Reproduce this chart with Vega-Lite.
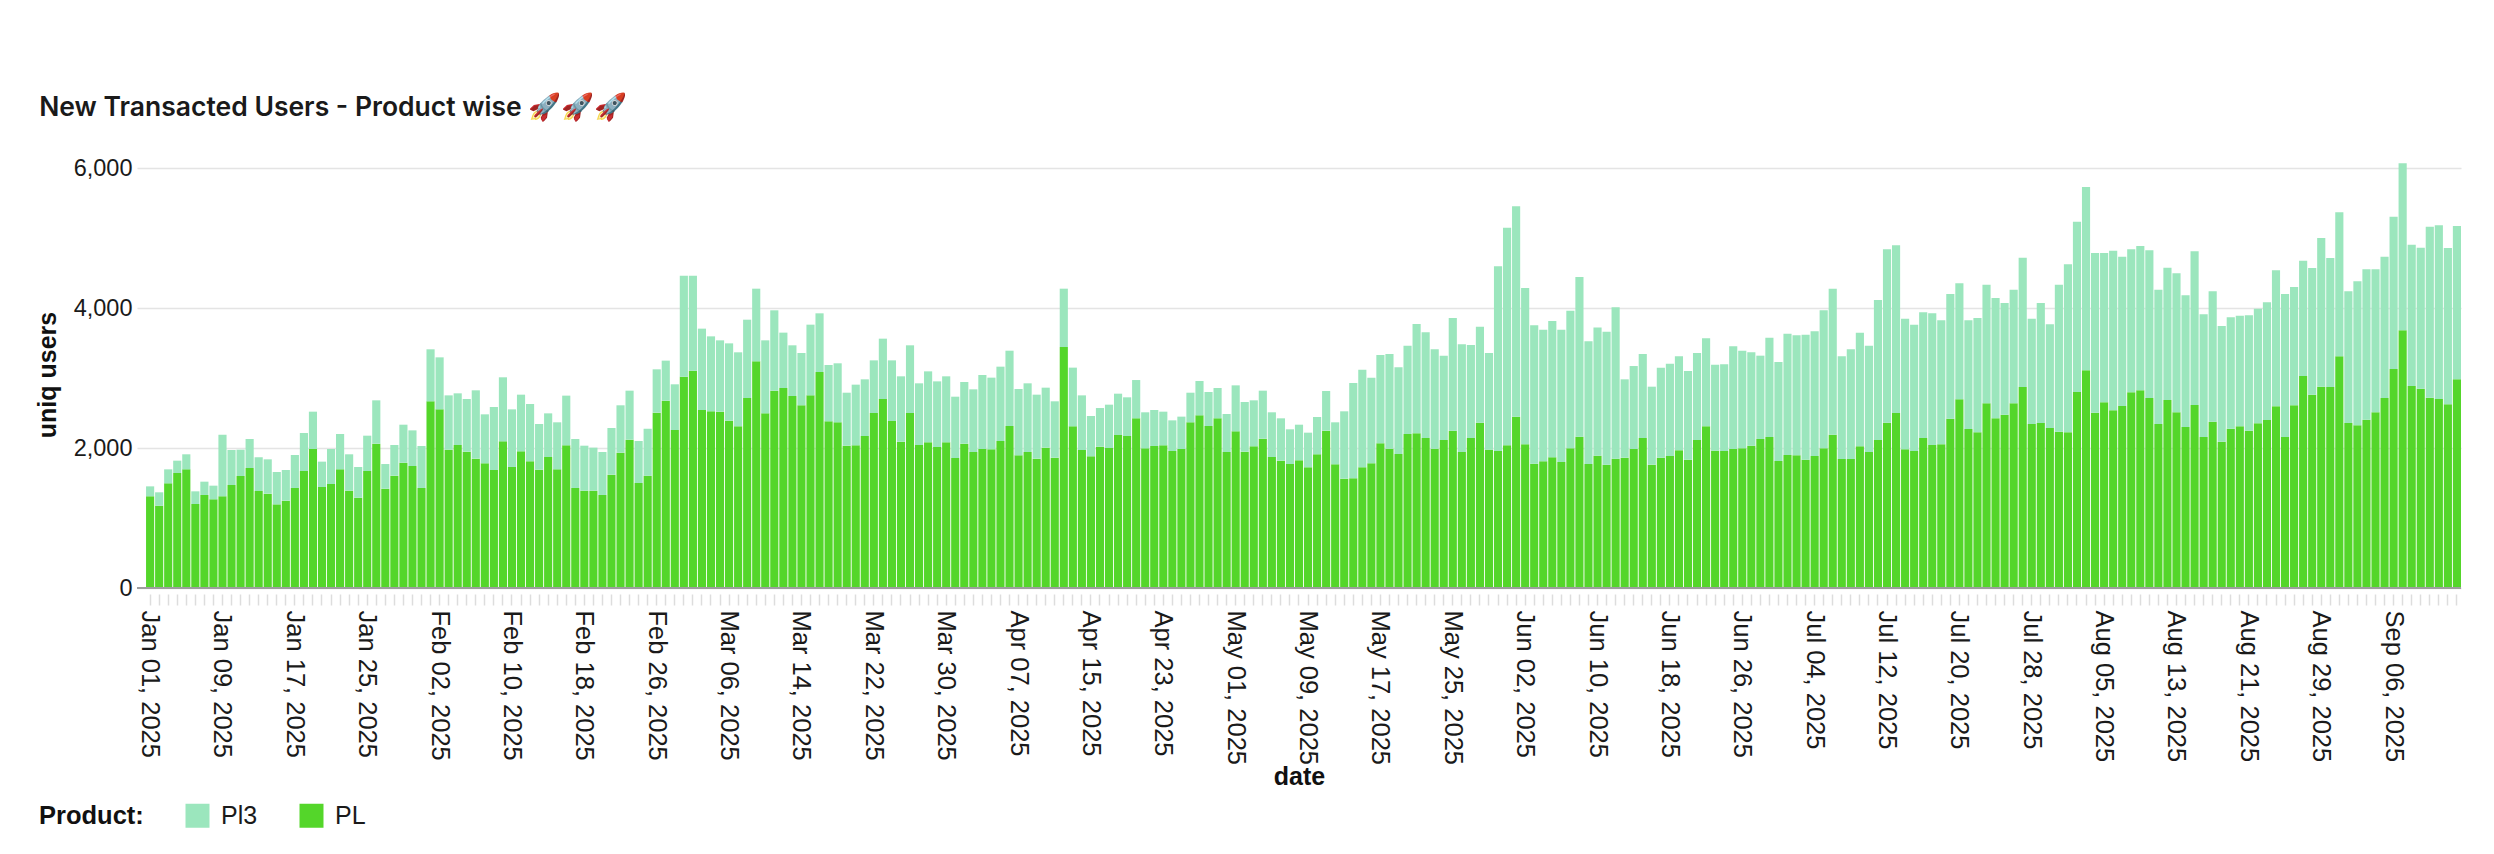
{
  "$schema": "https://vega.github.io/schema/vega-lite/v6.json",
  "width": 2324,
  "height": 427,
  "autosize": {"type": "none"},
  "padding": {"left": 137, "top": 161, "right": 33, "bottom": 266},
  "background": "white",
  "title": {
    "text": "New Transacted Users - Product wise 🚀🚀🚀",
    "anchor": "start",
    "frame": "bounds",
    "font": "Inter",
    "fontSize": 26.5,
    "fontWeight": 600,
    "color": "#1a1a1a",
    "offset": 35,
    "dx": 4
  },
  "data": {
    "values": [
      {"date":"2025-01-01","PL":1310,"Pl3":142},
      {"date":"2025-01-02","PL":1176,"Pl3":191},
      {"date":"2025-01-03","PL":1495,"Pl3":200},
      {"date":"2025-01-04","PL":1643,"Pl3":176},
      {"date":"2025-01-05","PL":1695,"Pl3":215},
      {"date":"2025-01-06","PL":1200,"Pl3":181},
      {"date":"2025-01-07","PL":1329,"Pl3":190},
      {"date":"2025-01-08","PL":1267,"Pl3":195},
      {"date":"2025-01-09","PL":1310,"Pl3":880},
      {"date":"2025-01-10","PL":1471,"Pl3":500},
      {"date":"2025-01-11","PL":1600,"Pl3":376},
      {"date":"2025-01-12","PL":1714,"Pl3":415},
      {"date":"2025-01-13","PL":1386,"Pl3":481},
      {"date":"2025-01-14","PL":1348,"Pl3":490},
      {"date":"2025-01-15","PL":1195,"Pl3":462},
      {"date":"2025-01-16","PL":1248,"Pl3":438},
      {"date":"2025-01-17","PL":1429,"Pl3":471},
      {"date":"2025-01-18","PL":1671,"Pl3":543},
      {"date":"2025-01-19","PL":1986,"Pl3":533},
      {"date":"2025-01-20","PL":1443,"Pl3":362},
      {"date":"2025-01-21","PL":1486,"Pl3":500},
      {"date":"2025-01-22","PL":1695,"Pl3":505},
      {"date":"2025-01-23","PL":1390,"Pl3":520},
      {"date":"2025-01-24","PL":1290,"Pl3":439},
      {"date":"2025-01-25","PL":1671,"Pl3":505},
      {"date":"2025-01-26","PL":2062,"Pl3":619},
      {"date":"2025-01-27","PL":1419,"Pl3":352},
      {"date":"2025-01-28","PL":1605,"Pl3":438},
      {"date":"2025-01-29","PL":1790,"Pl3":543},
      {"date":"2025-01-30","PL":1743,"Pl3":509},
      {"date":"2025-01-31","PL":1429,"Pl3":600},
      {"date":"2025-02-01","PL":2667,"Pl3":743},
      {"date":"2025-02-02","PL":2552,"Pl3":743},
      {"date":"2025-02-03","PL":1976,"Pl3":776},
      {"date":"2025-02-04","PL":2043,"Pl3":738},
      {"date":"2025-02-05","PL":1948,"Pl3":752},
      {"date":"2025-02-06","PL":1848,"Pl3":976},
      {"date":"2025-02-07","PL":1781,"Pl3":700},
      {"date":"2025-02-08","PL":1686,"Pl3":900},
      {"date":"2025-02-09","PL":2095,"Pl3":915},
      {"date":"2025-02-10","PL":1729,"Pl3":823},
      {"date":"2025-02-11","PL":1952,"Pl3":810},
      {"date":"2025-02-12","PL":1810,"Pl3":819},
      {"date":"2025-02-13","PL":1690,"Pl3":653},
      {"date":"2025-02-14","PL":1871,"Pl3":624},
      {"date":"2025-02-15","PL":1695,"Pl3":672},
      {"date":"2025-02-16","PL":2038,"Pl3":710},
      {"date":"2025-02-17","PL":1429,"Pl3":700},
      {"date":"2025-02-18","PL":1390,"Pl3":643},
      {"date":"2025-02-19","PL":1390,"Pl3":615},
      {"date":"2025-02-20","PL":1329,"Pl3":614},
      {"date":"2025-02-21","PL":1619,"Pl3":667},
      {"date":"2025-02-22","PL":1933,"Pl3":677},
      {"date":"2025-02-23","PL":2119,"Pl3":700},
      {"date":"2025-02-24","PL":1500,"Pl3":600},
      {"date":"2025-02-25","PL":1605,"Pl3":671},
      {"date":"2025-02-26","PL":2505,"Pl3":619},
      {"date":"2025-02-27","PL":2676,"Pl3":572},
      {"date":"2025-02-28","PL":2257,"Pl3":653},
      {"date":"2025-03-01","PL":3019,"Pl3":1443},
      {"date":"2025-03-02","PL":3105,"Pl3":1357},
      {"date":"2025-03-03","PL":2543,"Pl3":1162},
      {"date":"2025-03-04","PL":2524,"Pl3":1071},
      {"date":"2025-03-05","PL":2519,"Pl3":1019},
      {"date":"2025-03-06","PL":2390,"Pl3":1105},
      {"date":"2025-03-07","PL":2310,"Pl3":1057},
      {"date":"2025-03-08","PL":2714,"Pl3":1119},
      {"date":"2025-03-09","PL":3238,"Pl3":1038},
      {"date":"2025-03-10","PL":2495,"Pl3":1043},
      {"date":"2025-03-11","PL":2819,"Pl3":1148},
      {"date":"2025-03-12","PL":2857,"Pl3":791},
      {"date":"2025-03-13","PL":2743,"Pl3":724},
      {"date":"2025-03-14","PL":2610,"Pl3":747},
      {"date":"2025-03-15","PL":2752,"Pl3":1010},
      {"date":"2025-03-16","PL":3086,"Pl3":838},
      {"date":"2025-03-17","PL":2381,"Pl3":805},
      {"date":"2025-03-18","PL":2367,"Pl3":843},
      {"date":"2025-03-19","PL":2033,"Pl3":757},
      {"date":"2025-03-20","PL":2038,"Pl3":867},
      {"date":"2025-03-21","PL":2171,"Pl3":810},
      {"date":"2025-03-22","PL":2500,"Pl3":752},
      {"date":"2025-03-23","PL":2700,"Pl3":862},
      {"date":"2025-03-24","PL":2386,"Pl3":866},
      {"date":"2025-03-25","PL":2090,"Pl3":934},
      {"date":"2025-03-26","PL":2500,"Pl3":967},
      {"date":"2025-03-27","PL":2043,"Pl3":881},
      {"date":"2025-03-28","PL":2081,"Pl3":1014},
      {"date":"2025-03-29","PL":2014,"Pl3":938},
      {"date":"2025-03-30","PL":2081,"Pl3":943},
      {"date":"2025-03-31","PL":1857,"Pl3":876},
      {"date":"2025-04-01","PL":2062,"Pl3":881},
      {"date":"2025-04-02","PL":1943,"Pl3":895},
      {"date":"2025-04-03","PL":1986,"Pl3":1057},
      {"date":"2025-04-04","PL":1981,"Pl3":1024},
      {"date":"2025-04-05","PL":2100,"Pl3":1062},
      {"date":"2025-04-06","PL":2314,"Pl3":1076},
      {"date":"2025-04-07","PL":1895,"Pl3":948},
      {"date":"2025-04-08","PL":1943,"Pl3":981},
      {"date":"2025-04-09","PL":1848,"Pl3":914},
      {"date":"2025-04-10","PL":2005,"Pl3":857},
      {"date":"2025-04-11","PL":1862,"Pl3":805},
      {"date":"2025-04-12","PL":3443,"Pl3":833},
      {"date":"2025-04-13","PL":2310,"Pl3":838},
      {"date":"2025-04-14","PL":1971,"Pl3":781},
      {"date":"2025-04-15","PL":1881,"Pl3":576},
      {"date":"2025-04-16","PL":2019,"Pl3":552},
      {"date":"2025-04-17","PL":2000,"Pl3":619},
      {"date":"2025-04-18","PL":2186,"Pl3":590},
      {"date":"2025-04-19","PL":2171,"Pl3":553},
      {"date":"2025-04-20","PL":2424,"Pl3":547},
      {"date":"2025-04-21","PL":1995,"Pl3":515},
      {"date":"2025-04-22","PL":2029,"Pl3":514},
      {"date":"2025-04-23","PL":2038,"Pl3":481},
      {"date":"2025-04-24","PL":1957,"Pl3":438},
      {"date":"2025-04-25","PL":1986,"Pl3":462},
      {"date":"2025-04-26","PL":2367,"Pl3":423},
      {"date":"2025-04-27","PL":2467,"Pl3":490},
      {"date":"2025-04-28","PL":2314,"Pl3":486},
      {"date":"2025-04-29","PL":2424,"Pl3":433},
      {"date":"2025-04-30","PL":1943,"Pl3":543},
      {"date":"2025-05-01","PL":2238,"Pl3":657},
      {"date":"2025-05-02","PL":1948,"Pl3":709},
      {"date":"2025-05-03","PL":2024,"Pl3":657},
      {"date":"2025-05-04","PL":2133,"Pl3":686},
      {"date":"2025-05-05","PL":1871,"Pl3":639},
      {"date":"2025-05-06","PL":1819,"Pl3":605},
      {"date":"2025-05-07","PL":1771,"Pl3":496},
      {"date":"2025-05-08","PL":1824,"Pl3":509},
      {"date":"2025-05-09","PL":1724,"Pl3":495},
      {"date":"2025-05-10","PL":1910,"Pl3":533},
      {"date":"2025-05-11","PL":2248,"Pl3":566},
      {"date":"2025-05-12","PL":1767,"Pl3":600},
      {"date":"2025-05-13","PL":1562,"Pl3":962},
      {"date":"2025-05-14","PL":1567,"Pl3":1362},
      {"date":"2025-05-15","PL":1724,"Pl3":1395},
      {"date":"2025-05-16","PL":1781,"Pl3":1224},
      {"date":"2025-05-17","PL":2067,"Pl3":1262},
      {"date":"2025-05-18","PL":1990,"Pl3":1353},
      {"date":"2025-05-19","PL":1914,"Pl3":1238},
      {"date":"2025-05-20","PL":2200,"Pl3":1262},
      {"date":"2025-05-21","PL":2210,"Pl3":1561},
      {"date":"2025-05-22","PL":2143,"Pl3":1509},
      {"date":"2025-05-23","PL":1990,"Pl3":1420},
      {"date":"2025-05-24","PL":2114,"Pl3":1205},
      {"date":"2025-05-25","PL":2248,"Pl3":1609},
      {"date":"2025-05-26","PL":1943,"Pl3":1538},
      {"date":"2025-05-27","PL":2143,"Pl3":1328},
      {"date":"2025-05-28","PL":2362,"Pl3":1371},
      {"date":"2025-05-29","PL":1976,"Pl3":1381},
      {"date":"2025-05-30","PL":1957,"Pl3":2638},
      {"date":"2025-05-31","PL":2038,"Pl3":3110},
      {"date":"2025-06-01","PL":2448,"Pl3":3004},
      {"date":"2025-06-02","PL":2052,"Pl3":2234},
      {"date":"2025-06-03","PL":1776,"Pl3":1976},
      {"date":"2025-06-04","PL":1810,"Pl3":1880},
      {"date":"2025-06-05","PL":1867,"Pl3":1947},
      {"date":"2025-06-06","PL":1800,"Pl3":1890},
      {"date":"2025-06-07","PL":1995,"Pl3":1967},
      {"date":"2025-06-08","PL":2162,"Pl3":2281},
      {"date":"2025-06-09","PL":1771,"Pl3":1753},
      {"date":"2025-06-10","PL":1888,"Pl3":1834},
      {"date":"2025-06-11","PL":1762,"Pl3":1900},
      {"date":"2025-06-12","PL":1848,"Pl3":2162},
      {"date":"2025-06-13","PL":1862,"Pl3":1119},
      {"date":"2025-06-14","PL":1986,"Pl3":1185},
      {"date":"2025-06-15","PL":2143,"Pl3":1200},
      {"date":"2025-06-16","PL":1762,"Pl3":1114},
      {"date":"2025-06-17","PL":1862,"Pl3":1286},
      {"date":"2025-06-18","PL":1886,"Pl3":1319},
      {"date":"2025-06-19","PL":1967,"Pl3":1343},
      {"date":"2025-06-20","PL":1833,"Pl3":1267},
      {"date":"2025-06-21","PL":2114,"Pl3":1243},
      {"date":"2025-06-22","PL":2310,"Pl3":1257},
      {"date":"2025-06-23","PL":1962,"Pl3":1228},
      {"date":"2025-06-24","PL":1957,"Pl3":1238},
      {"date":"2025-06-25","PL":1986,"Pl3":1466},
      {"date":"2025-06-26","PL":1995,"Pl3":1395},
      {"date":"2025-06-27","PL":2033,"Pl3":1334},
      {"date":"2025-06-28","PL":2129,"Pl3":1190},
      {"date":"2025-06-29","PL":2157,"Pl3":1419},
      {"date":"2025-06-30","PL":1814,"Pl3":1415},
      {"date":"2025-07-01","PL":1900,"Pl3":1733},
      {"date":"2025-07-02","PL":1895,"Pl3":1715},
      {"date":"2025-07-03","PL":1833,"Pl3":1786},
      {"date":"2025-07-04","PL":1886,"Pl3":1781},
      {"date":"2025-07-05","PL":1995,"Pl3":1972},
      {"date":"2025-07-06","PL":2190,"Pl3":2086},
      {"date":"2025-07-07","PL":1843,"Pl3":1467},
      {"date":"2025-07-08","PL":1843,"Pl3":1567},
      {"date":"2025-07-09","PL":2024,"Pl3":1624},
      {"date":"2025-07-10","PL":1943,"Pl3":1519},
      {"date":"2025-07-11","PL":2114,"Pl3":2000},
      {"date":"2025-07-12","PL":2360,"Pl3":2478},
      {"date":"2025-07-13","PL":2500,"Pl3":2395},
      {"date":"2025-07-14","PL":1981,"Pl3":1867},
      {"date":"2025-07-15","PL":1957,"Pl3":1805},
      {"date":"2025-07-16","PL":2143,"Pl3":1795},
      {"date":"2025-07-17","PL":2043,"Pl3":1881},
      {"date":"2025-07-18","PL":2052,"Pl3":1772},
      {"date":"2025-07-19","PL":2419,"Pl3":1781},
      {"date":"2025-07-20","PL":2695,"Pl3":1657},
      {"date":"2025-07-21","PL":2271,"Pl3":1553},
      {"date":"2025-07-22","PL":2224,"Pl3":1633},
      {"date":"2025-07-23","PL":2638,"Pl3":1695},
      {"date":"2025-07-24","PL":2424,"Pl3":1719},
      {"date":"2025-07-25","PL":2476,"Pl3":1595},
      {"date":"2025-07-26","PL":2638,"Pl3":1624},
      {"date":"2025-07-27","PL":2871,"Pl3":1848},
      {"date":"2025-07-28","PL":2343,"Pl3":1505},
      {"date":"2025-07-29","PL":2357,"Pl3":1714},
      {"date":"2025-07-30","PL":2286,"Pl3":1481},
      {"date":"2025-07-31","PL":2233,"Pl3":2100},
      {"date":"2025-08-01","PL":2224,"Pl3":2400},
      {"date":"2025-08-02","PL":2800,"Pl3":2433},
      {"date":"2025-08-03","PL":3110,"Pl3":2619},
      {"date":"2025-08-04","PL":2505,"Pl3":2281},
      {"date":"2025-08-05","PL":2652,"Pl3":2134},
      {"date":"2025-08-06","PL":2538,"Pl3":2281},
      {"date":"2025-08-07","PL":2600,"Pl3":2133},
      {"date":"2025-08-08","PL":2795,"Pl3":2043},
      {"date":"2025-08-09","PL":2824,"Pl3":2062},
      {"date":"2025-08-10","PL":2714,"Pl3":2110},
      {"date":"2025-08-11","PL":2343,"Pl3":1919},
      {"date":"2025-08-12","PL":2686,"Pl3":1890},
      {"date":"2025-08-13","PL":2512,"Pl3":1983},
      {"date":"2025-08-14","PL":2300,"Pl3":1881},
      {"date":"2025-08-15","PL":2614,"Pl3":2196},
      {"date":"2025-08-16","PL":2157,"Pl3":1753},
      {"date":"2025-08-17","PL":2376,"Pl3":1862},
      {"date":"2025-08-18","PL":2090,"Pl3":1653},
      {"date":"2025-08-19","PL":2276,"Pl3":1591},
      {"date":"2025-08-20","PL":2310,"Pl3":1580},
      {"date":"2025-08-21","PL":2248,"Pl3":1647},
      {"date":"2025-08-22","PL":2352,"Pl3":1638},
      {"date":"2025-08-23","PL":2400,"Pl3":1681},
      {"date":"2025-08-24","PL":2595,"Pl3":1943},
      {"date":"2025-08-25","PL":2157,"Pl3":2043},
      {"date":"2025-08-26","PL":2610,"Pl3":1690},
      {"date":"2025-08-27","PL":3029,"Pl3":1647},
      {"date":"2025-08-28","PL":2762,"Pl3":1809},
      {"date":"2025-08-29","PL":2876,"Pl3":2124},
      {"date":"2025-08-30","PL":2871,"Pl3":1843},
      {"date":"2025-08-31","PL":3310,"Pl3":2057},
      {"date":"2025-09-01","PL":2357,"Pl3":1881},
      {"date":"2025-09-02","PL":2324,"Pl3":2057},
      {"date":"2025-09-03","PL":2405,"Pl3":2147},
      {"date":"2025-09-04","PL":2510,"Pl3":2042},
      {"date":"2025-09-05","PL":2714,"Pl3":2019},
      {"date":"2025-09-06","PL":3129,"Pl3":2176},
      {"date":"2025-09-07","PL":3681,"Pl3":2386},
      {"date":"2025-09-08","PL":2886,"Pl3":2019},
      {"date":"2025-09-09","PL":2848,"Pl3":2014},
      {"date":"2025-09-10","PL":2719,"Pl3":2443},
      {"date":"2025-09-11","PL":2700,"Pl3":2481},
      {"date":"2025-09-12","PL":2624,"Pl3":2233},
      {"date":"2025-09-13","PL":2981,"Pl3":2190}
    ]
  },
  "transform": [
    {"fold": ["PL", "Pl3"], "as": ["product", "users"]}
  ],
  "layer": [
    {
      "mark": {"type": "bar"},
      "encoding": {
        "x": {
          "field": "date",
          "type": "ordinal",
          "scale": {"paddingInner": 0.1, "paddingOuter": 0.5, "align": 1},
          "axis": {
            "title": "date",
            "titleFont": "Liberation Sans",
            "titleFontSize": 25,
            "titleFontWeight": "bold",
            "titleColor": "#111111",
            "titlePadding": 0,
            "labelExpr": "(round((toDate(datum.value) - toDate('2025-01-01')) / 86400000) % 8 == 0) ? utcFormat(toDate(datum.value), '%b %d, %Y') : ''",
            "labelAngle": 90,
            "labelAlign": "left",
            "labelBaseline": "middle",
            "labelFont": "Liberation Sans",
            "labelFontSize": 25.5,
            "labelColor": "#1a1a1a",
            "labelOverlap": false,
            "labelPadding": 5,
            "domain": false,
            "offset": 6,
            "ticks": true,
            "tickSize": 11,
            "tickWidth": 1.5,
            "tickColor": "#dddddd"
          }
        },
        "y": {
          "field": "users",
          "type": "quantitative",
          "stack": "zero",
          "scale": {"domain": [0, 6100], "nice": false},
          "axis": {
            "title": "uniq users",
            "titleFont": "Liberation Sans",
            "titleFontSize": 25,
            "titleFontWeight": "bold",
            "titleColor": "#111111",
            "titlePadding": 13,
            "values": [0, 2000, 4000, 6000],
            "format": ",.0f",
            "labelFont": "Liberation Sans",
            "labelFontSize": 23.5,
            "labelColor": "#1a1a1a",
            "labelPadding": 5,
            "domain": false,
            "ticks": false,
            "grid": true,
            "gridColor": "#e4e4e4",
            "gridWidth": 1.5
          }
        },
        "color": {
          "field": "product",
          "type": "nominal",
          "scale": {"domain": ["Pl3", "PL"], "range": ["#9be6bd", "#54d62a"]},
          "legend": {
            "title": "Product:",
            "orient": "none",
            "legendX": -98,
            "legendY": 642,
            "direction": "horizontal",
            "titleOrient": "left",
            "titleAnchor": "middle",
            "titleBaseline": "middle",
            "titleFont": "Liberation Sans",
            "titleFontSize": 25.5,
            "titleFontWeight": "bold",
            "titleColor": "#111111",
            "titlePadding": 41,
            "labelFont": "Liberation Sans",
            "labelFontSize": 25,
            "labelColor": "#1a1a1a",
            "labelOffset": 11,
            "columnPadding": 41,
            "symbolType": "square",
            "symbolSize": 576,
            "symbolStrokeWidth": 0
          }
        },
        "order": {"field": "product", "sort": "ascending"}
      }
    },
    {
      "mark": {"type": "rule", "color": "#9e9e9e", "strokeWidth": 2},
      "encoding": {"y": {"datum": 0}}
    }
  ],
  "config": {
    "view": {"stroke": null}
  }
}
